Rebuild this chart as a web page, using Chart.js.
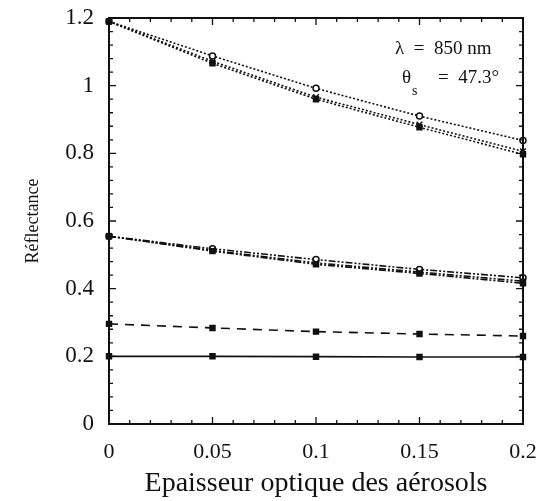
<!DOCTYPE html>
<html lang="fr">
<head>
    <meta charset="UTF-8">
    <title>Réflectance vs épaisseur optique</title>
    <script src="https://cdn.jsdelivr.net/npm/chart.js"></script>
    <style>
        body { margin: 0; background: #fff; }
        #wrap { width: 546px; height: 501px; }
    </style>
</head>
<body>
<div id="wrap">
    <canvas id="reflChart" width="546" height="501"></canvas>
</div>

<script>
    // aerosol optical thickness (x axis)
    const tau = [0, 0.05, 0.1, 0.15, 0.2];

    // upper group (dotted lines)
    const topCircle = [1.19, 1.088, 0.992, 0.910, 0.838];
    const topCross  = [1.19, 1.072, 0.966, 0.885, 0.806];
    const topSquare = [1.19, 1.066, 0.960, 0.877, 0.797];

    // middle group (dash-dot-dot lines)
    const midCircle = [0.555, 0.518, 0.486, 0.457, 0.432];
    const midCross  = [0.555, 0.513, 0.476, 0.449, 0.422];
    const midSquare = [0.555, 0.511, 0.472, 0.445, 0.416];

    // lower curves
    const dashed = [0.296, 0.284, 0.273, 0.266, 0.260];
    const solid  = [0.200, 0.200, 0.199, 0.198, 0.198];

    const xTicks = [0, 0.05, 0.1, 0.15, 0.2];
    const yTicks = [0, 0.2, 0.4, 0.6, 0.8, 1, 1.2];

    const ink = '#111';

    function pts(arr) {
        return tau.map((x, i) => ({ x: x, y: arr[i] }));
    }

    function series(arr, dash, style) {
        const open = style === 'circle';
        return {
            data: pts(arr),
            borderColor: ink,
            borderWidth: 1.6,
            borderDash: dash,
            pointStyle: style,
            pointRadius: style === 'rect' ? 3.5 : (style === 'crossRot' ? 4 : 3),
            pointBorderWidth: 1.5,
            pointBorderColor: ink,
            pointBackgroundColor: open ? '#fff' : ink,
            tension: 0,
            clip: false
        };
    }

    const dotted = [2, 2];
    const dashDotDot = [7, 2, 2, 2, 2, 2];
    const longDash = [9, 7];

    // fixed scale box, no extra room for overhanging labels
    function fixBox(s, size) {
        if (s.isHorizontal()) s.height = size; else s.width = size;
        s.paddingTop = 0; s.paddingBottom = 0;
        s.paddingLeft = 0; s.paddingRight = 0;
    }

    // inward ticks on all four sides, frame, and the annotation text
    const framePlugin = {
        id: 'frame',
        afterDraw(chart) {
            const ctx = chart.ctx;
            const a = chart.chartArea;
            const xs = chart.scales.x;
            const ys = chart.scales.y;
            ctx.save();
            ctx.strokeStyle = ink;
            ctx.lineWidth = 2;
            ctx.strokeRect(a.left, a.top, a.right - a.left, a.bottom - a.top);

            ctx.lineWidth = 1.3;
            ctx.beginPath();
            for (let i = 0; i <= 20; i++) {
                const px = xs.getPixelForValue(i * 0.01);
                const len = i % 5 === 0 ? 7 : 4;
                ctx.moveTo(px, a.bottom); ctx.lineTo(px, a.bottom - len);
                ctx.moveTo(px, a.top); ctx.lineTo(px, a.top + len);
            }
            for (let j = 0; j <= 30; j++) {
                const py = ys.getPixelForValue(j * 0.04);
                const len = j % 5 === 0 ? 7 : 4;
                ctx.moveTo(a.left, py); ctx.lineTo(a.left + len, py);
                ctx.moveTo(a.right, py); ctx.lineTo(a.right - len, py);
            }
            ctx.stroke();

            ctx.fillStyle = ink;
            ctx.textAlign = 'left';
            ctx.textBaseline = 'alphabetic';
            ctx.font = '19px "Liberation Serif"';
            const tx = a.right - 128;
            ctx.fillText('\u03bb  =  850 nm', tx, a.top + 36);
            ctx.fillText('\u03b8', tx + 7, a.top + 65);
            const w = ctx.measureText('\u03b8').width;
            ctx.font = '14px "Liberation Serif"';
            ctx.fillText('s', tx + 7 + w + 1, a.top + 77);
            ctx.font = '19px "Liberation Serif"';
            ctx.fillText('=  47.3\u00b0', tx + 43, a.top + 65);
            ctx.restore();
        }
    };

    const ctx = document.getElementById('reflChart').getContext('2d');
    const reflChart = new Chart(ctx, {
        type: 'line',
        data: {
            datasets: [
                series(topSquare, dotted, 'rect'),
                series(topCross, dotted, 'crossRot'),
                series(topCircle, dotted, 'circle'),
                series(midSquare, dashDotDot, 'rect'),
                series(midCross, dashDotDot, 'crossRot'),
                series(midCircle, dashDotDot, 'circle'),
                series(dashed, longDash, 'rect'),
                series(solid, [], 'rect')
            ]
        },
        options: {
            responsive: false,
            animation: false,
            devicePixelRatio: 1,
            layout: { padding: { left: 0, top: 18, right: 23, bottom: 0 } },
            plugins: {
                legend: { display: false },
                tooltip: { enabled: false }
            },
            scales: {
                x: {
                    type: 'linear',
                    min: 0,
                    max: 0.2,
                    afterFit: s => fixBox(s, 77),
                    afterBuildTicks: s => { s.ticks = xTicks.map(v => ({ value: v })); },
                    grid: { display: false, drawTicks: false },
                    border: { display: false },
                    ticks: {
                        color: ink,
                        padding: 15,
                        maxRotation: 0,
                        autoSkip: false,
                        font: { family: 'Liberation Serif', size: 22 },
                        callback: v => String(+v.toFixed(2))
                    },
                    title: {
                        display: true,
                        text: 'Epaisseur optique des aérosols',
                        color: ink,
                        font: { family: 'Liberation Serif', size: 28 },
                        padding: { top: 0, bottom: 1 }
                    }
                },
                y: {
                    min: 0,
                    max: 1.2,
                    afterFit: s => fixBox(s, 109),
                    afterBuildTicks: s => { s.ticks = yTicks.map(v => ({ value: v })); },
                    grid: { display: false, drawTicks: false },
                    border: { display: false },
                    ticks: {
                        color: ink,
                        padding: 15,
                        autoSkip: false,
                        font: { family: 'Liberation Serif', size: 23 },
                        callback: v => String(+v.toFixed(1))
                    },
                    title: {
                        display: true,
                        text: 'Réflectance',
                        color: ink,
                        font: { family: 'Liberation Serif', size: 18 },
                        padding: { top: 22, bottom: 0 }
                    }
                }
            }
        },
        plugins: [framePlugin]
    });
</script>
</body>
</html>
